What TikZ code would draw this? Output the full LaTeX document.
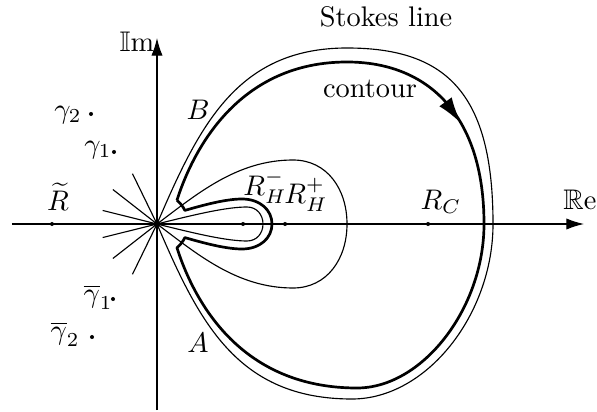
\documentclass[tikz,border=0pt]{standalone}
\usepackage{amsmath,amssymb}
\usetikzlibrary{positioning,arrows.meta}

\begin{document}
\begin{tikzpicture}[
  x=0.124mm, y=0.124mm,
  stokes/.style={line width=0.4pt},
  contourline/.style={line width=0.95pt, line join=round},
  ray/.style={line width=0.4pt},
  axis/.style={line width=0.4pt, -{Latex[length=2.2mm,width=1.4mm]}},
  pole/.style={circle, fill, inner sep=0pt, minimum size=0.5mm},
  lbl/.style={inner sep=0pt},
]
\useasboundingbox (-157,-187) rectangle (440,224);

% ---------------- axes ----------------
\coordinate (reW) at (-145,0);
\coordinate (reE) at (427,0);
\coordinate (imS) at (0,-186);
\coordinate (imN) at (0,186);
\draw[axis] (reW) -- (reE);
\draw[axis] (imS) -- (imN);
\node[lbl] (relbl) at (423,24) {$\mathbb{R}\mathrm{e}$};
\node[lbl] (imlbl) at (-20,182) {$\mathbb{I}\mathrm{m}$};

% ---------------- rays at the origin ----------------
\node[pole, minimum size=0.8mm] (O) at (0,0) {};
\foreach \a in {116,142,166,194,218,244}
  \draw[ray] (O.center) -- ++(\a:56);

% ---------------- Stokes lines ----------------
\draw[stokes] (0,0) .. controls (42,98) and (80,176) .. (190,176)
  .. controls (290,176) and (336,130) .. (336,0)
  .. controls (336,-90) and (270,-175) .. (195,-175)
  .. controls (80,-175) and (42,-98) .. (0,0);
\draw[stokes] (0,0) .. controls (40,30) and (80,64) .. (136,64)
  .. controls (170,64) and (190,35) .. (190,0)
  .. controls (190,-35) and (170,-64) .. (136,-64)
  .. controls (80,-64) and (40,-30) .. (0,0);
\draw[stokes] (0,0) .. controls (40,10) and (70,17) .. (90,17)
  .. controls (100,17) and (106,9) .. (106,0)
  .. controls (106,-9) and (100,-17) .. (90,-17)
  .. controls (70,-17) and (40,-10) .. (0,0);

% ---------------- contour ----------------
\draw[contourline] (50:31) .. controls (38,80) and (85,162) .. (190,162)
  .. controls (270,162) and (327,110) .. (327,0)
  .. controls (327,-85) and (265,-164) .. (200,-164)
  .. controls (85,-164) and (38,-80) .. (-50:31)
  arc[start angle=-50, end angle=-26, radius=31]
  .. controls (50,-20) and (70,-25) .. (85,-25)
  .. controls (103,-25) and (115,-14) .. (115,0)
  .. controls (115,14) and (103,25) .. (85,25)
  .. controls (70,25) and (50,20) .. (26:31)
  arc[start angle=26, end angle=50, radius=31];
\path (190,162) .. controls (270,162) and (327,110) .. (327,0)
  coordinate[pos=0.50] (arrA) coordinate[pos=0.62] (arrB);
\draw[line width=0.95pt, -{Latex[length=3.3mm,width=1.9mm]}] (arrA) -- (arrB);

% ---------------- points ----------------
\node[pole] (Rt) at (-105,0) {};
\node[pole] (gamB) at (-66,110) {};
\node[pole] (gamA) at (-43,72) {};
\node[pole] (gamAbar) at (-44,-75) {};
\node[pole] (gamBbar) at (-65,-113) {};
\node[pole] (RHm) at (86,0) {};
\node[pole] (RHp) at (128,0) {};
\node[pole] (RC) at (271,0) {};

% ---------------- labels ----------------
\node[lbl] at (-99,27) {$\widetilde{R}$};
\node[lbl] at (-89,109) {$\gamma_2$};
\node[lbl] at (-59,74) {$\gamma_1$};
\node[lbl] at (-59,-73) {$\overline{\gamma}_1$};
\node[lbl] at (-92,-110) {$\overline{\gamma}_2$};
\node[lbl] at (108,37) {$R_H^-$};
\node[lbl] at (149,29) {$R_H^+$};
\node[lbl] at (284,22) {$R_C$};
\node[lbl] at (41,114) {$B$};
\node[lbl] at (41,-119) {$A$};
\node[lbl] at (229,207) {Stokes line};
\node[lbl] at (213,135) {contour};

\end{tikzpicture}
\end{document}
